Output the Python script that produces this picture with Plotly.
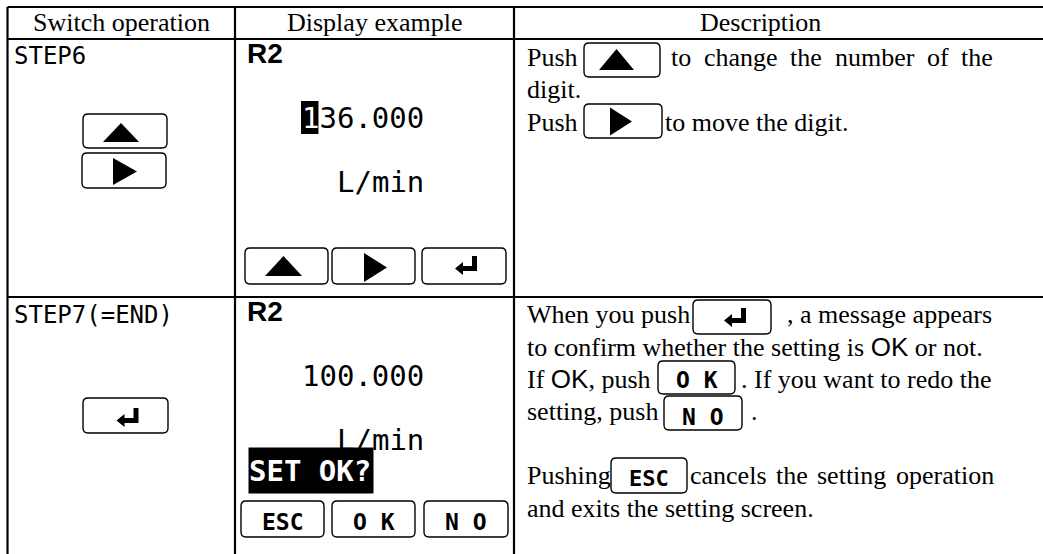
import plotly.graph_objects as go

W, H = 1043, 554

# ---------------- content ----------------
headers = ["Switch operation", "Display example", "Description"]
steps = ["STEP6", "STEP7(=END)"]
display_title = ["R2", "R2"]
display_values = ["136.000", "100.000"]
display_unit = "L/min"
confirm_msg = "SET OK?"
row2_keys = ["ESC", "O K", "N O"]

desc_r1 = {
    "push": "Push",
    "l1_words": ["to", "change", "the", "number", "of", "the"],
    "l2": "digit.",
    "l3_tail": "to move the digit.",
}
ARIAL_OK = '<span style="font-family:Liberation Sans">OK</span>'
desc_r2 = {
    "l1_head": "When you push",
    "l1_tail": ", a message appears",
    "l2": "to confirm whether the setting is " + ARIAL_OK + " or not.",
    "l3_head": "If " + ARIAL_OK + ", push",
    "l3_tail": ". If you want to redo the",
    "l4_head": "setting, push",
    "l4_tail": ".",
    "l6_head": "Pushing",
    "l6_words": ["cancels", "the", "setting", "operation"],
    "l7": "and exits the setting screen.",
}

SERIF = "Liberation Serif, Times New Roman, serif"
MONO = "DejaVu Sans Mono, monospace"
SANS = "Liberation Sans, Arial, sans-serif"

# Times (Liberation Serif) advance widths, 1/1000 em
TIMES = dict(a=444, b=500, c=444, d=500, e=444, f=333, g=500, h=500, i=278,
             j=278, k=500, l=278, m=778, n=500, o=500, p=500, q=500, r=333,
             s=389, t=278, u=500, v=500, w=722, x=500, y=500, z=444)
TIMES.update({" ": 250, ".": 250, ",": 250})


def tw(s, size):
    return sum(TIMES.get(c, 500) for c in s) / 1000.0 * size


shapes = []
anns = []


def line(x0, y0, x1, y1, w=2.2):
    shapes.append(dict(type="line", xref="x", yref="y", x0=x0, y0=y0, x1=x1, y1=y1,
                       line=dict(color="black", width=w)))


def path(d, fill="black", lw=0, lc="black"):
    shapes.append(dict(type="path", xref="x", yref="y", path=d, fillcolor=fill,
                       line=dict(color=lc, width=lw)))


def rbox(x0, y0, x1, y1, r=5, w=1.4):
    d = (f"M {x0+r},{y0} L {x1-r},{y0} Q {x1},{y0} {x1},{y0+r} L {x1},{y1-r} "
         f"Q {x1},{y1} {x1-r},{y1} L {x0+r},{y1} Q {x0},{y1} {x0},{y1-r} "
         f"L {x0},{y0+r} Q {x0},{y0} {x0+r},{y0} Z")
    shapes.append(dict(type="path", xref="x", yref="y", path=d, fillcolor="rgba(0,0,0,0)",
                       line=dict(color="black", width=w)))


def tri_up(cx, cy, w, h):
    path(f"M {cx-w/2},{cy+h/2} L {cx+w/2},{cy+h/2} L {cx},{cy-h/2} Z")


def tri_right(cx, cy, w, h):
    path(f"M {cx-w/2},{cy-h/2} L {cx+w/2},{cy} L {cx-w/2},{cy+h/2} Z")


def enter(cx, cy, s=1.0):
    pts = [(6, -9.5), (11, -9.5), (11, 5.5), (-3, 5.5), (-3, 9.5), (-11, 3),
           (-3, -3.5), (-3, 0.5), (6, 0.5)]
    d = "M " + " L ".join(f"{cx+px*s},{cy+py*s}" for px, py in pts) + " Z"
    path(d)


def txt(x, y, s, size, family, color="black", xanchor="left", **kw):
    anns.append(dict(x=x, y=y, xref="x", yref="y", text=s, showarrow=False,
                     xanchor=xanchor, yanchor="middle", borderpad=0,
                     font=dict(size=size, family=family, color=color), **kw))


def justify(words, x0, x1, y, size):
    widths = [tw(wd, size) for wd in words]
    gap = (x1 - x0 - sum(widths)) / (len(words) - 1)
    x = x0
    for wd, wdt in zip(words, widths):
        txt(x, y, wd, size, SERIF)
        x += wdt + gap


# ---------------- table grid ----------------
TOP, HDR, ROW, BOT = 7, 39, 297, H
LEFT, C1, C2, RIGHT = 7.5, 235, 514, W
for yy in (TOP, HDR, ROW):
    line(LEFT, yy, RIGHT, yy)
for xx in (LEFT, C1, C2):
    line(xx, TOP, xx, BOT)

# ---------------- header ----------------
FS = 26
txt(121, 22.5, headers[0], FS, SERIF, xanchor="center")
txt(374.5, 22.5, headers[1], FS, SERIF, xanchor="center")
txt(760, 22.5, headers[2], FS, SERIF, xanchor="center")

# ---------------- column 1 : switch operation ----------------
txt(13, 56, steps[0], 24, MONO)
rbox(83, 114, 167, 148)
tri_up(121, 132.5, 36, 19)
rbox(82, 153, 166, 188)
tri_right(125, 171.5, 24, 27)

txt(13, 315, steps[1], 24, MONO)
rbox(83, 398, 168, 433)
enter(127.5, 417.5)

# ---------------- column 2 : display example ----------------
CELL = 29 * 0.602
for r, off in enumerate((0, ROW - HDR)):
    txt(246, 53 + off, "<b>" + display_title[r] + "</b>", 28, SANS)

# row 1 display
shapes.append(dict(type="rect", xref="x", yref="y", x0=301, x1=301 + CELL, y0=101, y1=134,
                   fillcolor="black", line=dict(width=0)))
txt(301, 117.5, '<span style="color:white">' + display_values[0][0] + "</span>" + display_values[0][1:],
    29, MONO)
txt(301 + 2 * CELL, 181.5, display_unit, 29, MONO)
rbox(245, 248, 328, 284)
tri_up(283.5, 266, 37, 20)
rbox(332, 248, 415, 284)
tri_right(375.5, 267.5, 23, 29)
rbox(422, 248, 506, 284)
enter(466, 265.5)

# row 2 display
txt(301, 375.5, display_values[1], 29, MONO)
txt(301 + 2 * CELL, 439.5, display_unit, 29, MONO)
txt(248, 470.5, "<b>" + confirm_msg + "</b>", 29, MONO, color="white",
    bgcolor="black", width=124, height=45, align="left", valign="middle")
rbox(241, 501, 324, 537)
rbox(332, 501, 415, 537)
rbox(424, 501, 508, 537)
for cx, key in zip((283, 373.5, 466), row2_keys):
    txt(cx, 522, "<b>" + key + "</b>", 23, MONO, xanchor="center")

# ---------------- column 3 : description ----------------
XL = 525.5
# row 1
y1, y2, y3 = 57.4, 89.9, 122.4
txt(XL, y1, desc_r1["push"], FS, SERIF)
rbox(584, 43, 660, 77)
tri_up(616.5, 59.5, 35, 21)
justify(desc_r1["l1_words"], 670, 992, y1, FS)
txt(XL, y2, desc_r1["l2"], FS, SERIF)
txt(XL, y3, desc_r1["push"], FS, SERIF)
rbox(584, 104, 662, 138)
tri_right(621, 121.5, 22, 28)
txt(664, y3, desc_r1["l3_tail"], FS, SERIF)

# row 2
L = [314.4, 346.7, 379.0, 411.3, 475.9, 508.2]
txt(XL, L[0], desc_r2["l1_head"], FS, SERIF)
rbox(693, 300, 771, 334)
enter(735, 317.5)
txt(993, L[0], desc_r2["l1_tail"], FS, SERIF, xanchor="right")
txt(XL, L[1], desc_r2["l2"], FS, SERIF)
txt(XL, L[2], desc_r2["l3_head"], FS, SERIF)
rbox(658, 361, 735, 394)
txt(696.5, 380, "<b>" + row2_keys[1] + "</b>", 23, MONO, xanchor="center")
txt(993, L[2], desc_r2["l3_tail"], FS, SERIF, xanchor="right")
txt(XL, L[3], desc_r2["l4_head"], FS, SERIF)
rbox(664, 396, 742, 430)
txt(703, 417, "<b>" + row2_keys[2] + "</b>", 23, MONO, xanchor="center")
txt(750, L[3], desc_r2["l4_tail"], FS, SERIF)
txt(XL, L[4], desc_r2["l6_head"], FS, SERIF)
rbox(611, 458, 687, 493)
txt(649, 478, "<b>" + row2_keys[0] + "</b>", 22, MONO, xanchor="center")
justify(desc_r2["l6_words"], 689, 993, L[4], FS)
txt(XL, L[5], desc_r2["l7"], FS, SERIF)

fig = go.Figure()
fig.update_layout(
    width=W, height=H,
    margin=dict(l=0, r=0, t=0, b=0),
    paper_bgcolor="white", plot_bgcolor="white",
    xaxis=dict(range=[0, W], visible=False, fixedrange=True),
    yaxis=dict(range=[H, 0], visible=False, fixedrange=True),
    shapes=shapes, annotations=anns, showlegend=False,
)
fig.write_html("out.html", config={"displayModeBar": False},
               post_script="document.body.style.margin='0';document.body.style.overflow='hidden';")
